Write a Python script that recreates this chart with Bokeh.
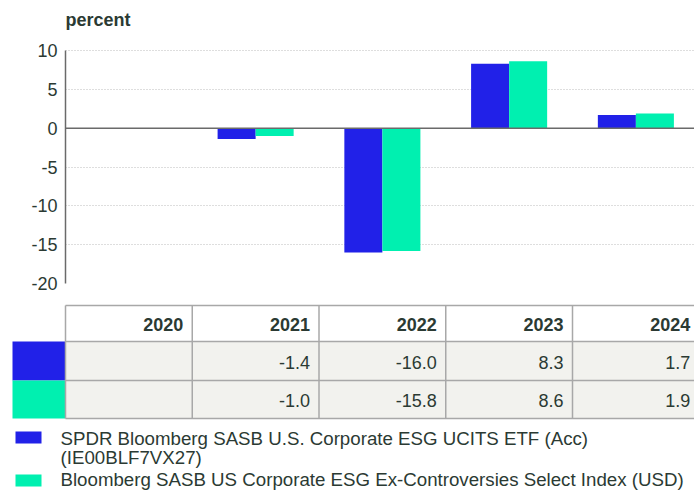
from bokeh.plotting import figure
from bokeh.models import Range1d, FixedTicker, Span, Label
from bokeh.layouts import column
from bokeh.embed import file_html
from bokeh.resources import INLINE
from bokeh.core.properties import value

# ---- data ----
years = ["2020", "2021", "2022", "2023", "2024"]
etf_values = [None, -1.4, -16.0, 8.3, 1.7]
index_values = [None, -1.0, -15.8, 8.6, 1.9]
y_ticks = [-20, -15, -10, -5, 0, 5, 10]
unit_label = "percent"
etf_name = ["SPDR Bloomberg SASB U.S. Corporate ESG UCITS ETF (Acc)", "(IE00BLF7VX27)"]
index_name = ["Bloomberg SASB US Corporate ESG Ex-Controversies Select Index (USD)"]

# ---- style ----
FONT = "Liberation Sans"
TXT = "#2b3a33"
BLUE = "#2121E8"
GREEN = "#00F0B0"
BORDER = "#a8a8a8"
ROWBG = "#f2f2ee"
W = 694
LEFT = 65
CW = 126.75
BW = 0.3
Y_LO, Y_HI = min(y_ticks), max(y_ticks)
PX_TOP, PX_BOT = 50, 283          # pixel rows of the top and bottom ticks
UPP = (Y_HI - Y_LO) / (PX_BOT - PX_TOP)   # data units per pixel

# ---- chart ----
p = figure(width=W, height=300, output_backend="svg", toolbar_location=None,
           x_range=Range1d(0, (W - LEFT) / CW),
           y_range=Range1d(Y_LO, Y_HI + PX_TOP * UPP),
           x_axis_location=None, min_border_left=LEFT, min_border_right=0,
           min_border_top=0, min_border_bottom=300 - PX_BOT)
p.frame_align = False
p.outline_line_color = None

p.add_layout(Label(x=0, y=Y_HI + 31 * UPP, text=unit_label,
                   text_font=FONT, text_font_size="18px", text_font_style="bold",
                   text_color=TXT, text_baseline="middle", text_align="left"))

xs_e = [i + 0.5 - BW / 2 for i, v in enumerate(etf_values) if v is not None]
ys_e = [v for v in etf_values if v is not None]
xs_i = [i + 0.5 + BW / 2 for i, v in enumerate(index_values) if v is not None]
ys_i = [v for v in index_values if v is not None]
p.vbar(x=xs_e, top=ys_e, bottom=0, width=BW, color=BLUE, line_color=None)
p.vbar(x=xs_i, top=ys_i, bottom=0, width=BW, color=GREEN, line_color=None)

p.yaxis.ticker = FixedTicker(ticks=y_ticks)
p.yaxis.bounds = (Y_LO, Y_HI)
p.yaxis.major_label_overrides = {t: str(t) for t in y_ticks}
p.yaxis.major_tick_line_color = None
p.yaxis.minor_tick_line_color = None
p.yaxis.major_tick_out = 0
p.yaxis.major_tick_in = 0
p.yaxis.major_label_standoff = 8
p.yaxis.axis_line_color = "#6a6a6a"
p.yaxis.axis_line_width = 1.5
p.yaxis.major_label_text_font = FONT
p.yaxis.major_label_text_font_size = "18px"
p.yaxis.major_label_text_color = TXT
p.xgrid.grid_line_color = None
p.ygrid.grid_line_color = "#bdbdbd"
p.ygrid.grid_line_dash = "1 2"
p.add_layout(Span(location=0, dimension="width", line_color="#6a6a6a", line_width=1.5))

# ---- table + legend ----
t = figure(width=W, height=190, output_backend="svg", toolbar_location=None,
           x_range=Range1d(0, W), y_range=Range1d(190, 0),
           x_axis_location=None, y_axis_location=None,
           min_border=0)
t.frame_align = False
t.outline_line_color = None
t.xgrid.grid_line_color = None
t.ygrid.grid_line_color = None

n = len(years)
top, h1, h2, bot = 5, 41, 80, 118
# row backgrounds
t.quad(left=[LEFT, LEFT], right=[LEFT + n * CW] * 2, top=[h1, h2], bottom=[h2, bot],
       color=ROWBG, line_color=None)
# swatches
t.quad(left=[12, 12], right=[LEFT, LEFT], top=[h1, h2], bottom=[h2, bot],
       color=[BLUE, GREEN], line_color=None)
# borders
t.segment(x0=[LEFT] * 4, x1=[LEFT + n * CW] * 4, y0=[top, h1, h2, bot], y1=[top, h1, h2, bot],
          line_color=BORDER, line_width=1.5)
t.segment(x0=[LEFT + i * CW for i in range(n + 1)], x1=[LEFT + i * CW for i in range(n + 1)],
          y0=[top] * (n + 1), y1=[bot] * (n + 1), line_color=BORDER, line_width=1.5)
rx = [LEFT + (i + 1) * CW - 9 for i in range(n)]
t.text(x=rx, y=[(top + h1) / 2 + 1] * n, text=years, text_align="right", text_baseline="middle",
       text_font=value(FONT), text_font_size="18px", text_font_style="bold", text_color=TXT)
for vals, yc in ((etf_values, (h1 + h2) / 2 + 1), (index_values, (h2 + bot) / 2 + 1)):
    xs = [rx[i] for i, v in enumerate(vals) if v is not None]
    tx = ["%.1f" % v for v in vals if v is not None]
    t.text(x=xs, y=[yc] * len(xs), text=tx, text_align="right", text_baseline="middle",
           text_font=value(FONT), text_font_size="18px", text_color=TXT)

# legend
t.quad(left=[15, 15], right=[41, 41], top=[131, 174], bottom=[143, 186],
       color=[BLUE, GREEN], line_color=None)
t.text(x=[60] * len(etf_name), y=[138 + 19 * k for k in range(len(etf_name))], text=etf_name,
       text_baseline="middle", text_font=value(FONT), text_font_size="18.7px", text_color=TXT)
t.text(x=[60], y=[179], text=index_name,
       text_baseline="middle", text_font=value(FONT), text_font_size="18.7px", text_color=TXT)

layout = column(p, t, spacing=0)
open("out.html", "w").write(file_html(layout, INLINE))
